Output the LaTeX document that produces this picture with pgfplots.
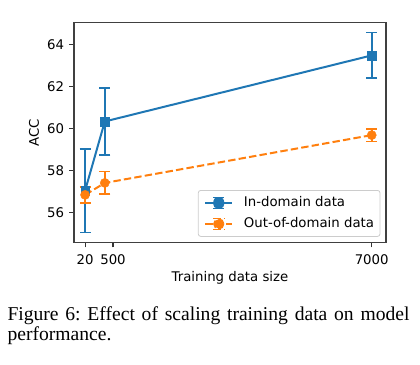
\documentclass[border=0pt]{standalone}
\usepackage{fontspec}
\setmainfont{DejaVu Sans}
\newfontfamily\capfont{Liberation Serif}
\usepackage{pgfplots}
\pgfplotsset{compat=1.18}
\definecolor{mblue}{HTML}{1F77B4}
\definecolor{morange}{HTML}{FF7F0E}
\frenchspacing
\begin{document}
\begin{tikzpicture}[x=1pt,y=1pt]
\useasboundingbox (0,0) rectangle (420,364);
\begin{axis}[
  at={(74pt,121.3pt)}, anchor=south west,
  scale only axis, width=312pt, height=220pt,
  xmin=-250, xmax=7348, ymin=54.57, ymax=65.06,
  xtick={20,700,7000}, xticklabels={20,500,7000},
  ytick={56,58,60,62,64},
  tick align=outside, major tick length=4.7pt,
  xtick pos=lower, ytick pos=left,
  tick style={black!80, line width=1.07pt},
  axis line style={black!75, line width=1.07pt},
  font=\fontsize{13.3}{16}\selectfont,
  /pgf/number format/assume math mode=true,
  xticklabel style={anchor=base, inner sep=0pt, yshift=-16.6pt},
  yticklabel style={anchor=east, inner sep=0pt, xshift=-5pt},
  xlabel={Training data size}, ylabel={ACC},
  xlabel style={at={(axis description cs:0.5,-0.1786)}, anchor=base, inner sep=0pt},
  ylabel style={at={(axis description cs:-0.1122,0.5)}, anchor=base, inner sep=0pt},
  legend style={at={(axis description cs:0.397,0.2395)}, anchor=north west,
    draw=black!20, line width=0.8pt, rounded corners=2.5pt, fill=white,
    font=\fontsize{13.3}{16}\selectfont, inner xsep=6pt, inner ysep=6pt,
    row sep=8pt, column sep=10.7pt,
    nodes={inner sep=0pt, text height=10pt, text depth=3pt}},
  legend cell align=left,
]
\addplot[mblue, line width=2pt, mark=square*, mark size=4.3pt,
  mark options={solid, line width=0.4pt},
  legend image code/.code={
    \draw[mblue, line width=2pt] (0pt,0pt) -- (27pt,0pt);
    \draw[mblue, line width=1.6pt] (13.5pt,-5.5pt) -- (13.5pt,5.5pt)
      (8pt,-5.5pt) -- (19pt,-5.5pt) (8pt,5.5pt) -- (19pt,5.5pt);
    \fill[mblue] (9.2pt,-4.3pt) rectangle (17.8pt,4.3pt);
  },
  error bars/.cd, y dir=both, y explicit,
  error bar style={line width=1.6pt, solid},
  error mark options={rotate=90, mark size=5.5pt, line width=1.6pt, mblue}]
  coordinates {(20,57.05) +- (0,2.0) (500,60.35) +- (0,1.6) (7000,63.5) +- (0,1.09)};
\addlegendentry{In-domain data}
\addplot[morange, line width=2pt, dash pattern=on 7.4pt off 3.2pt, mark=*, mark size=4.6pt,
  mark options={solid, line width=0.4pt},
  legend image code/.code={
    \draw[morange, line width=2pt, dash pattern=on 7.4pt off 3.2pt] (0pt,0pt) -- (27pt,0pt);
    \draw[morange, line width=1.6pt] (13.5pt,-5.5pt) -- (13.5pt,5.5pt)
      (8pt,-5.5pt) -- (19pt,-5.5pt) (8pt,5.5pt) -- (19pt,5.5pt);
    \fill[morange] (13.5pt,0pt) circle (4.6pt);
  },
  error bars/.cd, y dir=both, y explicit,
  error bar style={line width=1.6pt, solid},
  error mark options={rotate=90, mark size=5.5pt, line width=1.6pt, morange}]
  coordinates {(20,56.85) +- (0,0.38) (500,57.42) +- (0,0.54) (7000,59.7) +- (0,0.3)};
\addlegendentry{Out-of-domain data}
\end{axis}
\node[anchor=base west, inner sep=0pt, font=\capfont\fontsize{19.6}{20}\selectfont] at (7.3,43) {\makebox[402pt][s]{Figure 6: Effect of scaling training data on model}};
\node[anchor=base west, inner sep=0pt, font=\capfont\fontsize{19.6}{20}\selectfont] at (7.3,23.5) {performance.};
\end{tikzpicture}
\end{document}
